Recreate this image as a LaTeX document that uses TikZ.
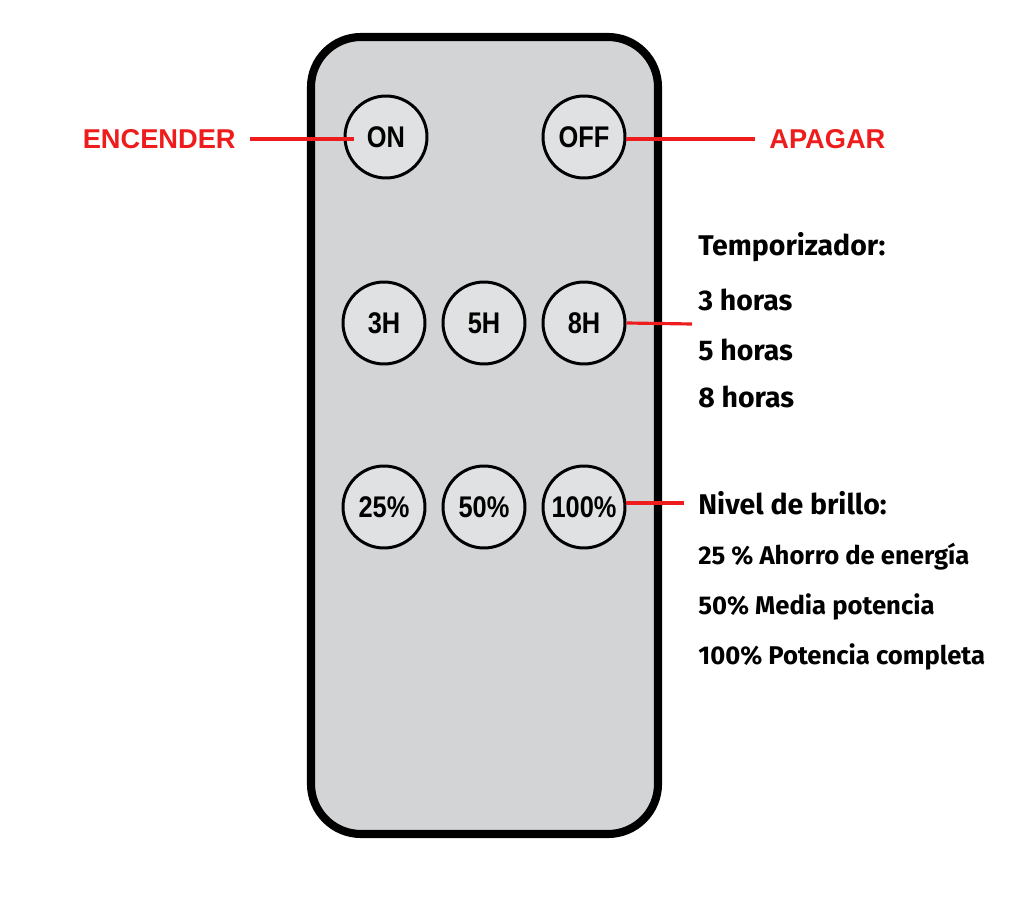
\documentclass[tikz,border=0pt]{standalone}
\usepackage{fontspec}
\setmainfont{Fira Sans}
\newfontfamily\botonfont[FakeStretch=0.85]{Liberation Sans}
\newfontfamily\rotulofont{Liberation Sans}
\usetikzlibrary{positioning}
\definecolor{cuerpo}{HTML}{D3D4D6}
\definecolor{rojo}{HTML}{EE1C1C}

\begin{document}
\begin{tikzpicture}[x=0.02cm,y=-0.02cm,
  boton/.style={circle, draw=black, line width=1.7pt, fill=cuerpo!70!white,
    minimum size=1.64cm, inner sep=0pt, font=\botonfont\fontsize{17}{17}\selectfont\bfseries},
  etiqueta/.style={text=rojo, inner sep=0.28cm, font=\rotulofont\fontsize{15.5}{15.5}\selectfont\bfseries},
  texto/.style={anchor=west, inner sep=0pt, font=\fontsize{16.2}{16.2}\selectfont\bfseries},
  textopeq/.style={texto, font=\fontsize{14.6}{14.6}\selectfont\bfseries},
  linea/.style={draw=rojo, line width=1.8pt}]
% Marco de la imagen
\useasboundingbox (0,0) rectangle (1024,915);

% Cuerpo del mando
\draw[line width=4.6pt, fill=cuerpo, rounded corners=1cm] (311,37) rectangle (658,834);

% Botones
\node[boton] (on)  at (386,137) {ON};
\node[boton] (off) at (584,137) {OFF};
\node[boton] (h3)  at (384,323) {3H};
\node[boton] (h5)  at (484,323) {5H};
\node[boton] (h8)  at (584,323) {8H};
\node[boton] (b25) at (384,507) {25\%};
\node[boton] (b50) at (484,507) {50\%};
\node[boton] (b100) at (584,507) {100\%};

% Etiquetas rojas
\node[etiqueta, anchor=east] (enc) at (250,139) {ENCENDER};
\node[etiqueta, anchor=west] (apa) at (755,139) {APAGAR};
\draw[linea] (enc.east) -- ([xshift=6]enc.east -| on.west);
\draw[linea] (off.east |- apa.west) -- (apa.west);

% Temporizador
\node[texto] (temp) at (698,247) {Temporizador:};
\node[texto] (t3) at (698,300) {3 horas};
\node[texto] (t5) at (698,350) {5 horas};
\node[texto] (t8) at (698,397) {8 horas};
\coordinate (ctemp) at (692,324);
\draw[linea] (h8.east) -- (ctemp);

% Nivel de brillo
\node[texto] (niv) at (698,503) {Nivel de brillo:};
\node[textopeq] (n25) at (698,557) {25 \% Ahorro de energía};
\node[textopeq] (n50) at (698,607) {50\% Media potencia};
\node[textopeq] (n100) at (698,657) {100\% Potencia completa};
\draw[linea] (b100.east |- niv.west) -- ([xshift=-8]niv.west);
\end{tikzpicture}
\end{document}
